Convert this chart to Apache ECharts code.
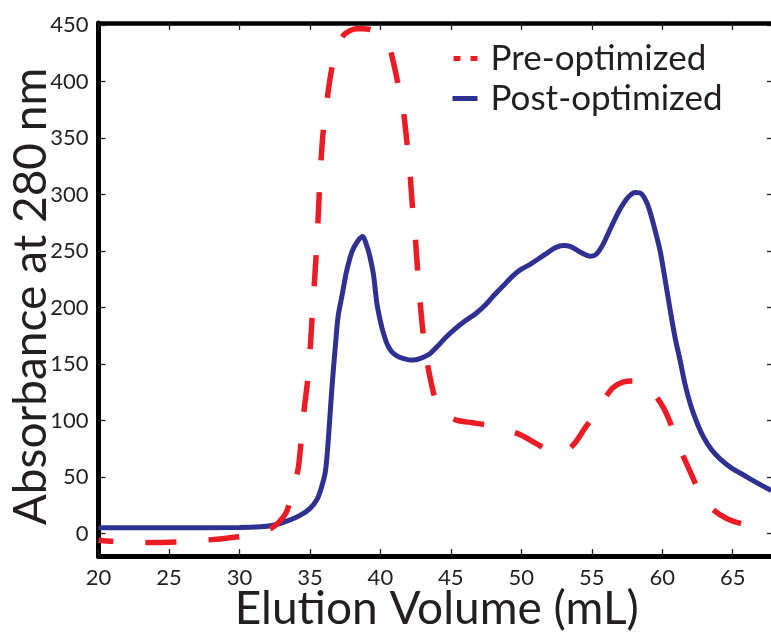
<!DOCTYPE html>
<html>
<head>
<meta charset="utf-8">
<script src="https://cdn.jsdelivr.net/npm/echarts@6/dist/echarts.min.js"></script>
<style>html,body{margin:0;padding:0;background:#fff}#c{width:771px;height:635px}</style>
</head>
<body>
<div id="c"></div>
<script>
// ---- data ----
var seriesNames = ['Pre-optimized', 'Post-optimized'];
var xTicks = [20, 25, 30, 35, 40, 45, 50, 55, 60, 65];
var yTicks = [0, 50, 100, 150, 200, 250, 300, 350, 400, 450];

var postX = [20, 25, 30, 31.5, 32.5, 33.5, 34.3, 35.0, 35.5, 35.8, 36.1, 36.3, 36.55, 36.8, 37.0, 37.3, 37.6, 38.0, 38.4, 38.75, 39.0, 39.2, 39.5, 39.75, 40.0, 40.2, 40.5, 40.8, 41.2, 41.6, 42.1, 42.6, 43.05, 43.5, 44.0, 44.6, 45.2, 46.0, 46.8, 47.5, 48.0, 48.7, 49.4, 50.0, 50.6, 51.2, 51.8, 52.4, 53.0, 53.5, 54.2, 54.9, 55.3, 55.8, 56.4, 57.0, 57.6, 58.1, 58.5, 58.9, 59.2, 59.5, 59.85, 60.2, 60.56, 60.9, 61.27, 61.6, 61.98, 62.4, 62.9, 63.5, 64.1, 64.9, 65.8, 66.7, 67.73];
var postY = [5, 5, 5.3, 6, 7.5, 11.5, 16, 22, 30, 40, 55, 82, 127, 165, 192, 212, 232, 250, 259, 263, 256, 248, 230, 204, 188, 178, 167, 161, 157, 155, 153.5, 154, 156, 159, 165, 173, 180, 188, 195, 203, 210, 219, 228, 234, 238, 243, 248, 253, 255, 254, 249, 245.5, 247, 256, 272, 287, 298, 302, 301, 293, 282, 268, 250, 225, 198, 174, 153, 133, 115, 100, 86, 74, 66, 58, 51.5, 45, 38];

var preX = [20, 21, 22.5, 24.5, 26.5, 28, 29.2, 30.5, 31.5, 32.2, 32.8, 33.3, 33.6, 33.9, 34.2, 34.5, 34.9, 35.2, 35.5, 35.7, 35.9, 36.1, 36.5, 36.9, 37.3, 37.8, 38.3, 38.8, 39.3, 39.75, 40.2, 40.6, 41.0, 41.3, 41.6, 41.87, 42.1, 42.3, 42.5, 42.8, 43.17, 43.4, 43.7, 43.9, 44.2, 44.5, 45.0, 45.5, 46.5, 47.8, 49.0, 50.0, 51.0, 52.0, 52.7, 53.2, 53.8, 54.5, 55.4, 56.0, 56.5, 57.2, 58.0, 58.7, 59.4, 60.1, 60.6, 61.0, 61.5, 61.9, 62.4, 62.9, 63.6, 64.6, 65.8, 66.95, 67.7];
var preY = [-6, -7, -8, -8, -7, -5.5, -4, -2, 1, 4, 10, 18, 29, 43, 60, 100, 143, 200, 258, 310, 350, 373, 408, 430, 440, 445, 447, 447, 446, 443, 438, 432, 413, 395, 377, 348, 319, 285, 258, 207, 162, 146, 128, 119, 111, 106, 102.5, 100, 98, 95.5, 91.5, 87, 80, 73, 70.5, 73, 80, 93, 109, 121, 129, 134, 135, 133, 124, 111, 97, 83, 68, 57, 43, 31, 21, 13, 8, 5.8, 4.5];

function pairs(xs, ys) { return xs.map(function (x, i) { return [x, ys[i]]; }); }

var FONT = 'Lato';
var INK = '#231f20';
var RED = '#ed1c24';
var BLUE = '#2e3192';

var chart = echarts.init(document.getElementById('c'), null, { renderer: 'canvas' });
var axisLineStyle = { color: '#000', width: 5 };
var tickStyle = { color: INK, width: 1.3 };

chart.setOption({
  animation: false,
  backgroundColor: '#fff',
  grid: { left: 98.5, right: -4, top: 23, bottom: 79, containLabel: false, outerBoundsMode: 'none' },
  legend: {
    show: true,
    orient: 'vertical',
    left: 445,
    top: 36,
    itemWidth: 25,
    itemHeight: 14,
    itemGap: 5,
    itemStyle: { opacity: 0 },
    textStyle: { fontFamily: FONT, fontSize: 35, color: INK, lineHeight: 35, padding: [0, 0, 0, 8] },
    data: [
      { name: seriesNames[0], lineStyle: { color: RED, width: 5, type: [7, 10] } },
      { name: seriesNames[1], lineStyle: { color: BLUE, width: 5, type: 'solid' } }
    ]
  },
  xAxis: [{
    type: 'value', min: 20, max: 68, interval: 5, position: 'bottom',
    name: 'Elution Volume (mL)', nameLocation: 'middle', nameGap: 30, nameMoveOverlap: false,
    nameTextStyle: { fontFamily: FONT, fontSize: 46, color: INK },
    axisLine: { show: true, onZero: false, lineStyle: axisLineStyle },
    axisTick: { show: true, inside: true, length: 7, lineStyle: tickStyle, customValues: xTicks },
    axisLabel: { fontFamily: FONT, fontSize: 22, color: INK, margin: 11, customValues: xTicks },
    splitLine: { show: false }
  }, {
    type: 'value', min: 20, max: 68, interval: 5, position: 'top',
    axisLine: { show: true, onZero: false, lineStyle: { color: '#000', width: 4.5 } },
    axisTick: { show: true, inside: true, length: 7, lineStyle: tickStyle, customValues: xTicks },
    axisLabel: { show: false },
    splitLine: { show: false }
  }],
  yAxis: [{
    type: 'value', min: -20, max: 452, interval: 50, position: 'left',
    name: 'Absorbance at 280 nm', nameLocation: 'middle', nameGap: 44, nameMoveOverlap: false,
    nameTextStyle: { fontFamily: FONT, fontSize: 46, color: INK, padding: [0, 14, 0, 0] },
    axisLine: { show: true, onZero: false, lineStyle: axisLineStyle },
    axisTick: { show: true, inside: true, length: 7, lineStyle: tickStyle, customValues: yTicks },
    axisLabel: { fontFamily: FONT, fontSize: 22, color: INK, margin: 10, customValues: yTicks },
    splitLine: { show: false }
  }, {
    type: 'value', min: -20, max: 452, interval: 50, position: 'right',
    axisLine: { show: true, onZero: false, lineStyle: axisLineStyle },
    axisTick: { show: true, inside: true, length: 8, lineStyle: tickStyle, customValues: yTicks },
    axisLabel: { show: false },
    splitLine: { show: false }
  }],
  series: [{
    name: seriesNames[0], type: 'line', xAxisIndex: 0, yAxisIndex: 0,
    data: pairs(preX, preY), smooth: 0.3, showSymbol: false, symbol: 'none',
    lineStyle: { color: RED, width: 5.5, type: [31, 32], dashOffset: 16, cap: 'butt' },
    itemStyle: { color: RED }, z: 3
  }, {
    name: seriesNames[1], type: 'line', xAxisIndex: 0, yAxisIndex: 0,
    data: pairs(postX, postY), smooth: 0.3, showSymbol: false, symbol: 'none',
    lineStyle: { color: BLUE, width: 5, type: 'solid' },
    itemStyle: { color: BLUE }, z: 2
  }]
});
</script>
</body>
</html>
